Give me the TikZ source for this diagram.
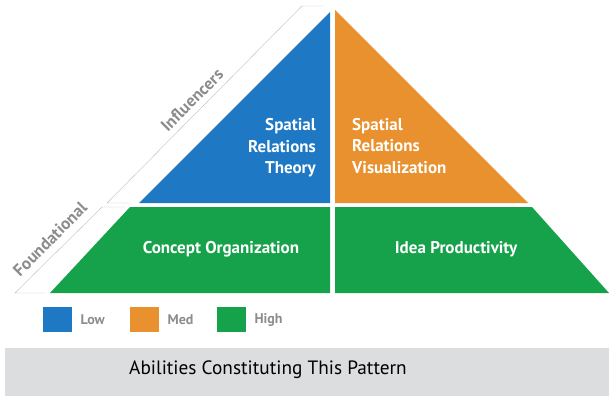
\documentclass[tikz,border=0pt]{standalone}
\usepackage{fontspec}
\setmainfont{PT Sans}
\usetikzlibrary{positioning}

\definecolor{lowblue}{HTML}{1F78C4}
\definecolor{medorange}{HTML}{E8912E}
\definecolor{highgreen}{HTML}{16A24A}
\definecolor{bracegray}{HTML}{BDBDBD}
\definecolor{labelgray}{HTML}{8C8C8C}
\definecolor{bargray}{HTML}{DCDDDF}

\tikzset{
  cell/.style={font=\fontsize{17}{21.5}\selectfont\bfseries, text=white, inner sep=0pt},
  level/.style={font=\fontsize{17}{18}\selectfont\bfseries, text=labelgray, rotate=45, inner sep=0pt},
  key/.style={minimum width=29pt, minimum height=25pt, inner sep=0pt},
  keytext/.style={font=\fontsize{14}{16}\selectfont\bfseries, text=labelgray, inner sep=0pt}
}

\begin{document}
\begin{tikzpicture}[x=1pt,y=-1pt]
\useasboundingbox (0,0) rectangle (609,396);
% Influencers
\fill[lowblue] (139,203) -- (330,12) -- (330,203) -- cycle;
\fill[medorange] (335,10) -- (528,203) -- (335,203) -- cycle;
% Foundational
\fill[highgreen] (130,207) -- (330,207) -- (330,293) -- (50,293) -- cycle;
\fill[highgreen] (335,207) -- (532,207) -- (609,293) -- (335,293) -- cycle;
% brackets
\draw[bracegray] (324,6) -- (302,6) -- (107,203) -- (128,203);
\draw[bracegray] (126,207) -- (102,207) -- (15,293) -- (45,293);
\node[level] (influencers) at (192,100) {Influencers};
\node[level] (foundational) at (50,239) {Foundational};

\node[cell, align=right, anchor=east] (theory) at (316,148) {Spatial\\Relations\\Theory};
\node[cell, align=left, anchor=west] (visual) at (352,146) {Spatial\\Relations\\Visualization};
\node[cell] (concept) at (221,249) {Concept Organization};
\node[cell] (idea) at (456,249) {Idea Productivity};

% legend
\foreach \c/\t/\x in {lowblue/Low/43, medorange/Med/130, highgreen/High/217} {
  \node[key, fill=\c, anchor=north west] (key\t) at (\x,307) {};
  \node[keytext, right=8pt of key\t] (lbl\t) {\t};
}

\fill[bargray] (5,348) rectangle (609,396);
\node[font=\fontsize{19.3}{21}\selectfont] (caption) at (268,370) {Abilities Constituting This Pattern};
\end{tikzpicture}
\end{document}
